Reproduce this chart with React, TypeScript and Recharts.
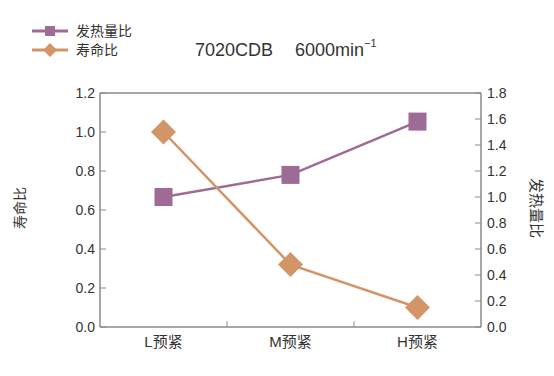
import React from 'react';
import { LineChart, Line, XAxis, YAxis, ReferenceLine } from 'recharts';

const categories = ['L预紧', 'M预紧', 'H预紧'];
const heatRatio = [1.0, 1.17, 1.58];
const lifeRatio = [1.0, 0.32, 0.1];
const leftTicks = [0, 0.2, 0.4, 0.6, 0.8, 1.0, 1.2];
const rightTicks = [0, 0.2, 0.4, 0.6, 0.8, 1.0, 1.2, 1.4, 1.6, 1.8];
const boundaryTicks = [1, 2];
const seriesNames = ['发热量比', '寿命比'];
const titleModel = '7020CDB';
const titleSpeed = '6000min';

const PURPLE = '#9e6a96';
const ORANGE = '#d39468';
const AXIS = '#8a8a8a';
const FONT = '"Liberation Sans", "Noto Sans CJK SC", sans-serif';

const data = categories.map((c, i) => ({ name: c, idx: i + 0.5, heat: heatRatio[i], life: lifeRatio[i] }));

const SquareDot = (props: any) => {
  const { cx, cy } = props;
  if (cx == null || cy == null) return null;
  return <rect x={cx - 9} y={cy - 9} width={18} height={18} fill={PURPLE} />;
};

const DiamondDot = (props: any) => {
  const { cx, cy } = props;
  if (cx == null || cy == null) return null;
  const r = 12.5;
  return <polygon points={`${cx},${cy - r} ${cx + r},${cy} ${cx},${cy + r} ${cx - r},${cy}`} fill={ORANGE} />;
};

const tickStyle = { fill: '#333', fontSize: 14, fontFamily: FONT };
const catTickStyle = { fill: '#333', fontSize: 15, fontFamily: FONT };

export default function App() {
  return (
    <div style={{ position: 'absolute', left: 0, top: 0, width: 554, height: 376, background: '#fff', fontFamily: FONT }}>
      <LineChart width={554} height={376} data={data} margin={{ top: 93, right: 33, bottom: 19, left: 60 }}>
        <XAxis
          xAxisId="cat"
          dataKey="name"
          scale="band"
          height={30}
          tickLine={false}
          tick={catTickStyle}
          tickMargin={3}
          axisLine={{ stroke: AXIS, strokeWidth: 1.5 }}
        />
        <XAxis xAxisId="num" type="number" dataKey="idx" domain={[0, 3]} hide />
        <YAxis
          yAxisId="left"
          orientation="left"
          width={40}
          domain={[0, 1.2]}
          ticks={leftTicks}
          tickFormatter={(v: number) => v.toFixed(1)}
          tickSize={-6}
          tickMargin={11}
          tick={tickStyle}
          tickLine={{ stroke: AXIS, strokeWidth: 1 }}
          axisLine={{ stroke: AXIS, strokeWidth: 1.5 }}
          interval={0}
        />
        <YAxis
          yAxisId="right"
          orientation="right"
          width={40}
          domain={[0, 1.8]}
          ticks={rightTicks}
          tickFormatter={(v: number) => v.toFixed(1)}
          tickSize={-6}
          tickMargin={12}
          tick={tickStyle}
          tickLine={{ stroke: AXIS, strokeWidth: 1 }}
          axisLine={{ stroke: AXIS, strokeWidth: 1.5 }}
          interval={0}
        />
        <ReferenceLine yAxisId="left" xAxisId="cat" y={1.2} stroke={AXIS} strokeWidth={1.5} />
        {boundaryTicks.map((b) => (
          <ReferenceLine
            key={b}
            xAxisId="num"
            yAxisId="left"
            segment={[{ x: b, y: 0 }, { x: b, y: 0.03 }]}
            stroke={AXIS}
            strokeWidth={1}
          />
        ))}
        <Line
          xAxisId="cat"
          yAxisId="right"
          dataKey="heat"
          stroke={PURPLE}
          strokeWidth={2.5}
          dot={<SquareDot />}
          activeDot={false}
          isAnimationActive={false}
        />
        <Line
          xAxisId="cat"
          yAxisId="left"
          dataKey="life"
          stroke={ORANGE}
          strokeWidth={2.5}
          dot={<DiamondDot />}
          activeDot={false}
          isAnimationActive={false}
        />
      </LineChart>
      <svg width={554} height={376} style={{ position: 'absolute', left: 0, top: 0, pointerEvents: 'none' }}>
        <line x1={32} y1={31} x2={68} y2={31} stroke={PURPLE} strokeWidth={3} />
        <rect x={45} y={26} width={10} height={10} fill={PURPLE} />
        <text x={76} y={31} dominantBaseline="central" fontSize={14} fill="#333" fontFamily={FONT}>{seriesNames[0]}</text>
        <line x1={32} y1={50} x2={68} y2={50} stroke={ORANGE} strokeWidth={3} />
        <polygon points="50,43 57,50 50,57 43,50" fill={ORANGE} />
        <text x={76} y={50} dominantBaseline="central" fontSize={14} fill="#333" fontFamily={FONT}>{seriesNames[1]}</text>
        <text x={195} y={50} dominantBaseline="central" fontSize={18} fill="#333" fontFamily={FONT}>{titleModel}</text>
        <text x={295} y={50} dominantBaseline="central" fontSize={18} fill="#333" fontFamily={FONT}>
          {titleSpeed}
          <tspan dy={-7} fontSize={11}>−1</tspan>
        </text>
        <text x={20} y={208} textAnchor="middle" dominantBaseline="central" fontSize={14} fill="#333" fontFamily={FONT} transform="rotate(-90 20 208)">{seriesNames[1]}</text>
        <text x={536} y={208} textAnchor="middle" dominantBaseline="central" fontSize={15} fill="#333" fontFamily={FONT} transform="rotate(90 536 208)">{seriesNames[0]}</text>
      </svg>
    </div>
  );
}
